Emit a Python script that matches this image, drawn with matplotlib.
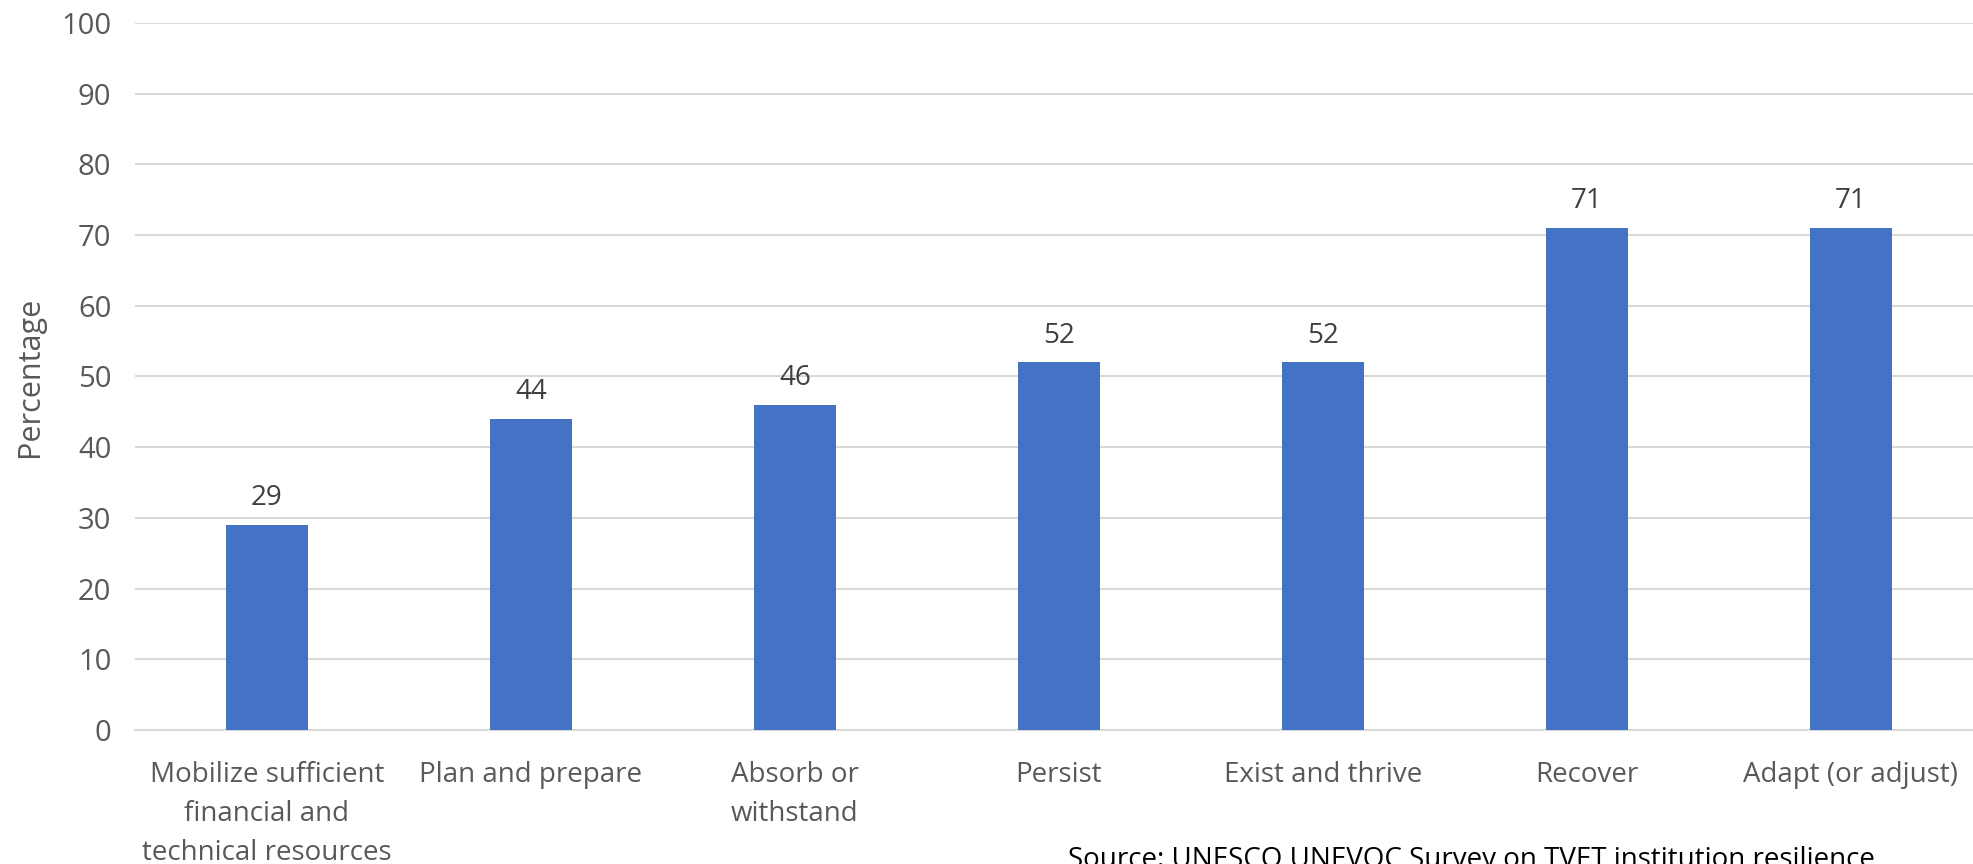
import matplotlib.pyplot as plt

categories = ["Mobilize sufficient\nfinancial and\ntechnical resources", "Plan and prepare",
              "Absorb or\nwithstand", "Persist", "Exist and thrive", "Recover", "Adapt (or adjust)"]
values = [29, 44, 46, 52, 52, 71, 71]
yticks = list(range(0, 101, 10))

plt.rcParams['font.family'] = ['Open Sans', 'DejaVu Sans']

fig = plt.figure(figsize=(19.73, 8.64), dpi=100)
ax = fig.add_axes([0.0684, 0.155, 0.9365, 0.8186])

x = list(range(len(categories)))
bars = ax.bar(x, values, width=0.31, color="#4472C4", zorder=3)

for xi, v in zip(x, values):
    ax.annotate(str(v), (xi, v), xytext=(0, 9), textcoords="offset points",
                ha="center", va="bottom", fontsize=20, color="#404040")

ax.set_xlim(-0.5, 6.5)
ax.set_ylim(0, 100)
ax.set_yticks(yticks)
ax.grid(axis="y", color="#D9D9D9", linewidth=1.5, zorder=0)
ax.set_xticks(x)
ax.set_xticklabels(categories, fontsize=20, color="#595959", linespacing=1.53)
ax.tick_params(axis="y", labelsize=21, labelcolor="#595959", length=0, pad=17)
ax.tick_params(axis="x", length=0, pad=22)
for s in ["top", "right", "left"]:
    ax.spines[s].set_visible(False)
ax.spines["bottom"].set_color("#D9D9D9")
ax.spines["bottom"].set_linewidth(1.5)

ax.set_ylabel("Percentage", fontsize=22, color="#595959", labelpad=12)

fig.text(0.746, -0.012, "Source: UNESCO UNEVOC Survey on TVET institution resilience",
         ha="center", va="bottom", fontsize=20, color="black")

fig.savefig("out.png", dpi=100)
